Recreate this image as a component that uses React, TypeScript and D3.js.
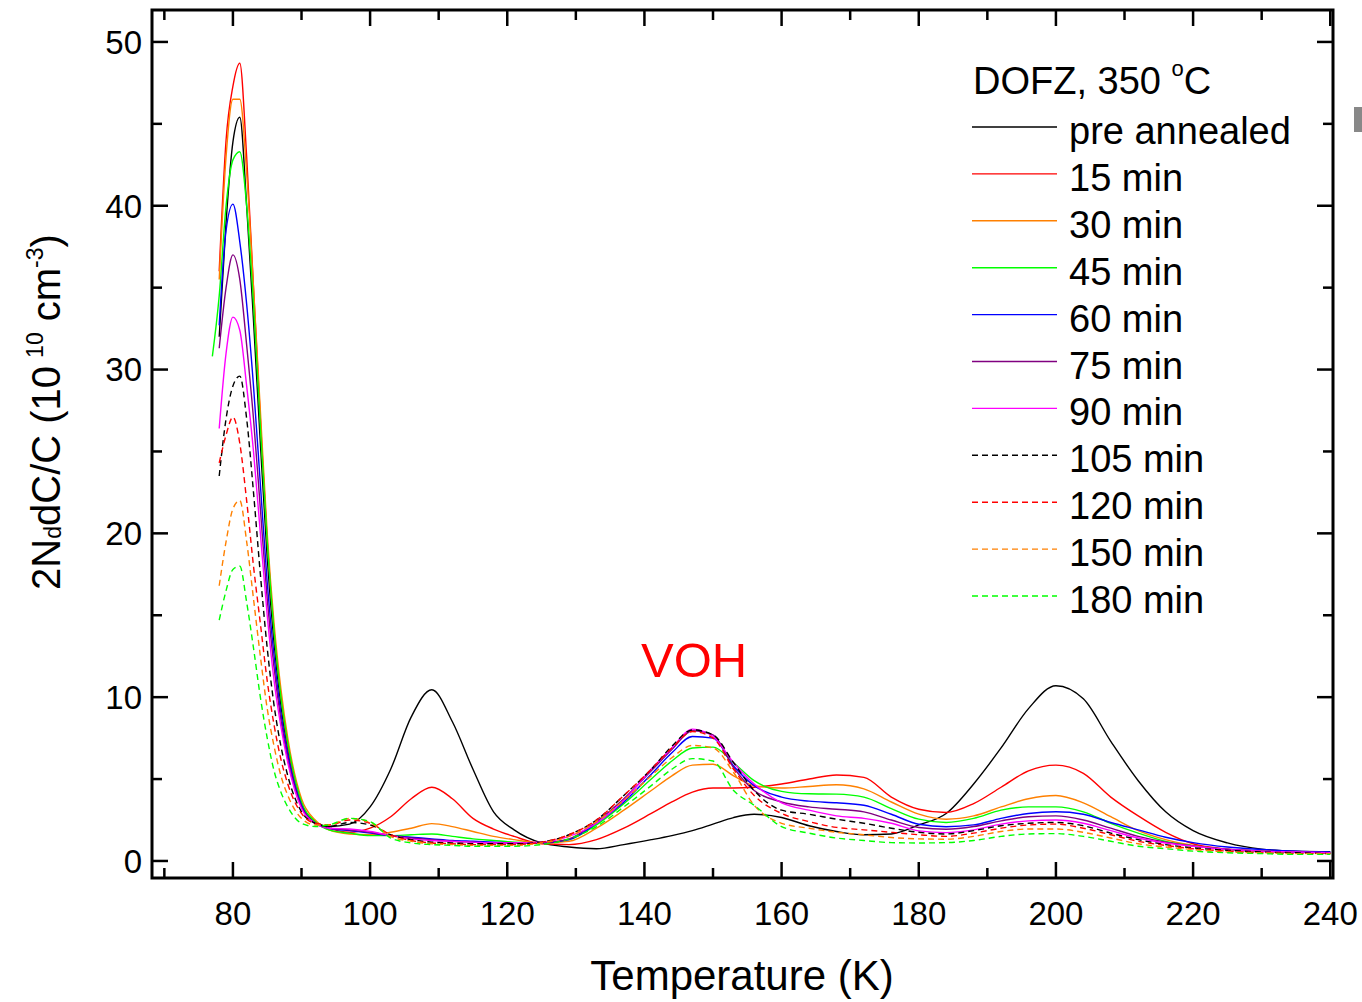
import React from "react";
import * as d3 from "d3";

// Temperature grid (K)
const temps = [77, 78, 79, 80, 81, 82, 83, 84, 85, 86, 87, 88, 90, 92, 94, 97, 100, 103, 106, 109, 112, 115, 118, 121, 125, 129, 133, 137, 141, 144, 147, 150, 153, 156, 160, 164, 168, 172, 176, 180, 184, 188, 192, 196, 200, 204, 208, 212, 216, 220, 225, 230, 235, 240];

const preAnnealed = [null, 32, 39, 43.9, 45.4, 40, 33, 25.5, 18.5, 13.3, 9.5, 6.8, 3.4, 2.4, 2.1, 2.25, 3.3, 5.6, 8.8, 10.45, 8.5, 5.6, 3.0, 1.9, 1.1, 0.85, 0.75, 1.0, 1.3, 1.55, 1.85, 2.25, 2.65, 2.85, 2.65, 2.15, 1.8, 1.6, 1.65, 2.2, 2.9, 4.7, 6.9, 9.3, 10.7, 9.9, 7.3, 4.9, 3.0, 1.85, 1.1, 0.72, 0.6, 0.57];
const min15 = [null, 36, 44, 47.3, 48.7, 43, 35, 27, 19.5, 14, 10, 7, 3.5, 2.4, 2.0, 1.75, 2.0, 2.7, 3.8, 4.5, 3.8, 2.6, 1.95, 1.5, 1.05, 1.0, 1.3, 2.0, 2.9, 3.6, 4.2, 4.45, 4.45, 4.5, 4.7, 5.0, 5.25, 5.1, 3.9, 3.16, 2.96, 3.5, 4.5, 5.5, 5.85, 5.35, 3.9, 2.75, 1.75, 1.05, 0.72, 0.6, 0.55, 0.5];
const min30 = [null, 35.5, 43, 46.5, 46.5, 42, 35, 27.5, 20, 14.5, 10.5, 7.5, 3.8, 2.5, 1.9, 1.65, 1.6, 1.75, 2.0, 2.28, 2.1, 1.8, 1.5, 1.3, 1.1, 1.2, 2.0, 3.1, 4.3, 5.2, 5.85, 5.9, 5.2, 4.6, 4.45, 4.55, 4.65, 4.4, 3.6, 2.86, 2.55, 2.75, 3.3, 3.8, 4.0, 3.55, 2.7, 1.85, 1.3, 0.95, 0.7, 0.6, 0.55, 0.5];
const min45 = [30.8, 34.5, 40, 42.8, 43.3, 40, 34, 26.5, 19.5, 14, 10, 7.2, 3.6, 2.4, 1.9, 1.7, 1.55, 1.55, 1.6, 1.65, 1.5, 1.35, 1.25, 1.15, 1.1, 1.3, 2.2, 3.5, 5.0, 6.1, 6.9, 6.95, 6.0, 4.9, 4.25, 4.1, 4.08, 3.9, 3.2, 2.55, 2.35, 2.6, 3.1, 3.3, 3.3, 3.0, 2.3, 1.7, 1.2, 0.92, 0.7, 0.6, 0.55, 0.5];
const min60 = [null, 32.7, 38.5, 40.1, 37.8, 34, 29, 23, 17, 12.5, 9, 6.5, 3.4, 2.3, 2.0, 1.85, 1.7, 1.55, 1.45, 1.35, 1.25, 1.2, 1.15, 1.1, 1.1, 1.3, 2.3, 3.6, 5.3, 6.6, 7.6, 7.5, 5.8, 4.6, 3.9, 3.65, 3.55, 3.4, 2.85, 2.24, 2.09, 2.2, 2.6, 2.9, 3.0, 2.85, 2.35, 1.9, 1.45, 1.12, 0.85, 0.7, 0.6, 0.55];
const min75 = [null, 31.3, 35, 37, 35.5, 31.5, 27, 21.5, 16, 11.8, 8.6, 6.2, 3.3, 2.3, 2.0, 1.9, 1.75, 1.55, 1.4, 1.3, 1.2, 1.15, 1.1, 1.1, 1.1, 1.35, 2.4, 3.8, 5.5, 6.8, 7.95, 7.7, 5.7, 4.3, 3.6, 3.3, 3.16, 3.0, 2.5, 2.04, 1.94, 2.1, 2.45, 2.7, 2.75, 2.5, 2.0, 1.5, 1.15, 0.92, 0.72, 0.6, 0.55, 0.5];
const min90 = [null, 26.4, 31, 33.2, 32.4, 29, 25, 20, 15, 11, 8.2, 6.0, 3.2, 2.3, 2.0, 1.95, 1.8, 1.55, 1.35, 1.25, 1.2, 1.15, 1.1, 1.1, 1.15, 1.5, 2.3, 3.7, 5.6, 6.9, 8.05, 7.6, 6.0, 4.7, 3.55, 3.1, 2.75, 2.6, 2.3, 1.84, 1.73, 1.9, 2.25, 2.45, 2.5, 2.3, 1.85, 1.4, 1.1, 0.9, 0.7, 0.6, 0.55, 0.5];
const min105 = [null, 23.5, 27, 29, 29.6, 27, 22.5, 17.5, 13, 9.5, 7.0, 5.2, 3.0, 2.3, 2.1, 2.35, 2.2, 1.6, 1.3, 1.15, 1.1, 1.05, 1.05, 1.05, 1.15, 1.6, 2.5, 4.0, 5.6, 7.0, 8.0, 7.7, 6.0, 4.3, 3.1, 2.85, 2.55, 2.3, 2.0, 1.75, 1.65, 1.85, 2.15, 2.3, 2.35, 2.15, 1.7, 1.3, 1.0, 0.8, 0.65, 0.55, 0.5, 0.45];
const min120 = [null, 24.3, 26, 27.1, 25.5, 22, 18, 14.5, 11, 8.3, 6.2, 4.7, 2.9, 2.3, 2.2, 2.5, 2.3, 1.6, 1.25, 1.1, 1.05, 1.0, 1.0, 1.0, 1.15, 1.6, 2.5, 4.0, 5.6, 6.9, 7.9, 7.5, 5.6, 4.0, 2.9, 2.4, 2.05, 1.9, 1.75, 1.6, 1.5, 1.7, 2.0, 2.2, 2.25, 2.0, 1.6, 1.2, 0.95, 0.75, 0.6, 0.5, 0.45, 0.45];
const min150 = [null, 16.8, 19.5, 21.5, 22, 19.5, 16, 12.5, 9.3, 7.0, 5.2, 4.0, 2.6, 2.2, 2.2, 2.6, 2.35, 1.5, 1.2, 1.05, 1.0, 0.95, 0.95, 0.95, 1.1, 1.5, 2.4, 3.7, 5.2, 6.3, 7.05, 6.9, 5.4, 3.4, 2.3, 2.0, 1.75, 1.6, 1.43, 1.35, 1.33, 1.5, 1.8, 1.95, 1.95, 1.75, 1.4, 1.05, 0.85, 0.7, 0.55, 0.5, 0.45, 0.45];
const min180 = [null, 14.7, 16.5, 17.8, 18.0, 15.8, 13, 10, 7.5, 5.5, 4.2, 3.3, 2.3, 2.1, 2.2, 2.6, 2.4, 1.4, 1.1, 1.0, 0.95, 0.9, 0.9, 0.9, 1.0, 1.35, 2.1, 3.3, 4.6, 5.6, 6.25, 6.1, 4.3, 3.4, 2.1, 1.7, 1.4, 1.25, 1.12, 1.1, 1.12, 1.25, 1.5, 1.65, 1.67, 1.5, 1.2, 0.9, 0.75, 0.6, 0.5, 0.45, 0.4, 0.4];

const seriesNames = ["pre annealed", "15 min", "30 min", "45 min", "60 min", "75 min", "90 min", "105 min", "120 min", "150 min", "180 min"];
const seriesValues = [preAnnealed, min15, min30, min45, min60, min75, min90, min105, min120, min150, min180];
const seriesColors = ["#000000", "#ff0000", "#ff8000", "#00ff00", "#0000ff", "#800080", "#ff00ff", "#000000", "#ff0000", "#ff8000", "#00ff00"];
const seriesDashed = [false, false, false, false, false, false, false, true, true, true, true];

const xMajorTicks = [80, 100, 120, 140, 160, 180, 200, 220, 240];
const xMinorTicks = [70, 90, 110, 130, 150, 170, 190, 210, 230];
const yMajorTicks = [0, 10, 20, 30, 40, 50];
const yMinorTicks = [5, 15, 25, 35, 45];

const W = 1362;
const H = 1002;
const L = 152;
const R = 1333;
const T = 10;
const B = 878;
const FONT = "Liberation Sans, Arial, Helvetica, sans-serif";

export default function App() {
  const x = d3.scaleLinear().domain([68.2, 240.4]).range([L, R]);
  const y = d3.scaleLinear().domain([-1.04, 51.95]).range([B, T]);
  const line = d3
    .line<[number, number | null]>()
    .defined((d) => d[1] !== null)
    .x((d) => x(d[0]))
    .y((d) => y(d[1] as number))
    .curve(d3.curveMonotoneX);

  const majorLen = 16;
  const minorLen = 10;

  return (
    <svg
      width={W}
      height={H}
      viewBox={`0 0 ${W} ${H}`}
      style={{ position: "absolute", left: 0, top: 0, display: "block", background: "#fff" }}
      fontFamily={FONT}
    >
      <defs>
        <clipPath id="plotclip">
          <rect x={L} y={T} width={R - L} height={B - T} />
        </clipPath>
      </defs>
      <rect x={0} y={0} width={W} height={H} fill="#fff" />

      {/* series */}
      <g clipPath="url(#plotclip)">
        {seriesValues.map((vals, i) => {
          const pts = temps.map((t, k) => [t, vals[k]] as [number, number | null]);
          return (
            <path
              key={i}
              d={line(pts) || ""}
              fill="none"
              stroke={seriesColors[i]}
              strokeWidth={1.4}
              strokeDasharray={seriesDashed[i] ? "6,4" : undefined}
            />
          );
        })}
      </g>

      {/* ticks */}
      <g stroke="#000" strokeWidth={2.5}>
        {xMajorTicks.map((t) => (
          <g key={"xM" + t}>
            <line x1={x(t)} x2={x(t)} y1={B} y2={B - majorLen} />
            <line x1={x(t)} x2={x(t)} y1={T} y2={T + majorLen} />
          </g>
        ))}
        {xMinorTicks.map((t) => (
          <g key={"xm" + t}>
            <line x1={x(t)} x2={x(t)} y1={B} y2={B - minorLen} />
            <line x1={x(t)} x2={x(t)} y1={T} y2={T + minorLen} />
          </g>
        ))}
        {yMajorTicks.map((t) => (
          <g key={"yM" + t}>
            <line x1={L} x2={L + majorLen} y1={y(t)} y2={y(t)} />
            <line x1={R} x2={R - majorLen} y1={y(t)} y2={y(t)} />
          </g>
        ))}
        {yMinorTicks.map((t) => (
          <g key={"ym" + t}>
            <line x1={L} x2={L + minorLen} y1={y(t)} y2={y(t)} />
            <line x1={R} x2={R - minorLen} y1={y(t)} y2={y(t)} />
          </g>
        ))}
      </g>

      {/* frame */}
      <rect x={L} y={T} width={R - L} height={B - T} fill="none" stroke="#000" strokeWidth={3} />

      {/* tick labels */}
      <g fontSize={33} fill="#000">
        {xMajorTicks.map((t) => (
          <text key={"xl" + t} x={x(t)} y={925} textAnchor="middle">
            {t}
          </text>
        ))}
        {yMajorTicks.map((t) => (
          <text key={"yl" + t} x={142} y={y(t)} dy="0.36em" textAnchor="end">
            {t}
          </text>
        ))}
      </g>

      {/* axis titles */}
      <text x={742} y={990} fontSize={42} textAnchor="middle" fill="#000">
        Temperature (K)
      </text>
      <text transform="translate(60,412) rotate(-90)" fontSize={40} textAnchor="middle" fill="#000">
        <tspan>2N</tspan>
        <tspan fontSize={23} dy={1}>d</tspan>
        <tspan dy={-1}>dC/C (10</tspan>
        <tspan fontSize={23} dy={-17} dx={8}>10</tspan>
        <tspan dy={17}> cm</tspan>
        <tspan fontSize={23} dy={-17}>-3</tspan>
        <tspan dy={17}>)</tspan>
      </text>

      {/* VOH annotation */}
      <text x={641} y={677} fontSize={49} fill="#ff0000">
        VOH
      </text>

      {/* legend */}
      <text x={973} y={94} fontSize={38} fill="#000">
        <tspan>DOFZ, 350 </tspan>
        <tspan fontSize={22} dy={-18}>o</tspan>
        <tspan dy={18}>C</tspan>
      </text>
      {seriesNames.map((name, i) => {
        const ly = 127 + i * 46.9;
        return (
          <g key={"lg" + i}>
            <line
              x1={972}
              x2={1057}
              y1={ly}
              y2={ly}
              stroke={seriesColors[i]}
              strokeWidth={1.4}
              strokeDasharray={seriesDashed[i] ? "6,4" : undefined}
            />
            <text x={1069} y={ly + 17} fontSize={38} fill="#000">
              {name}
            </text>
          </g>
        );
      })}

      {/* small grey mark at right edge */}
      <rect x={1354} y={107} width={8} height={25} fill="#888" />
    </svg>
  );
}
